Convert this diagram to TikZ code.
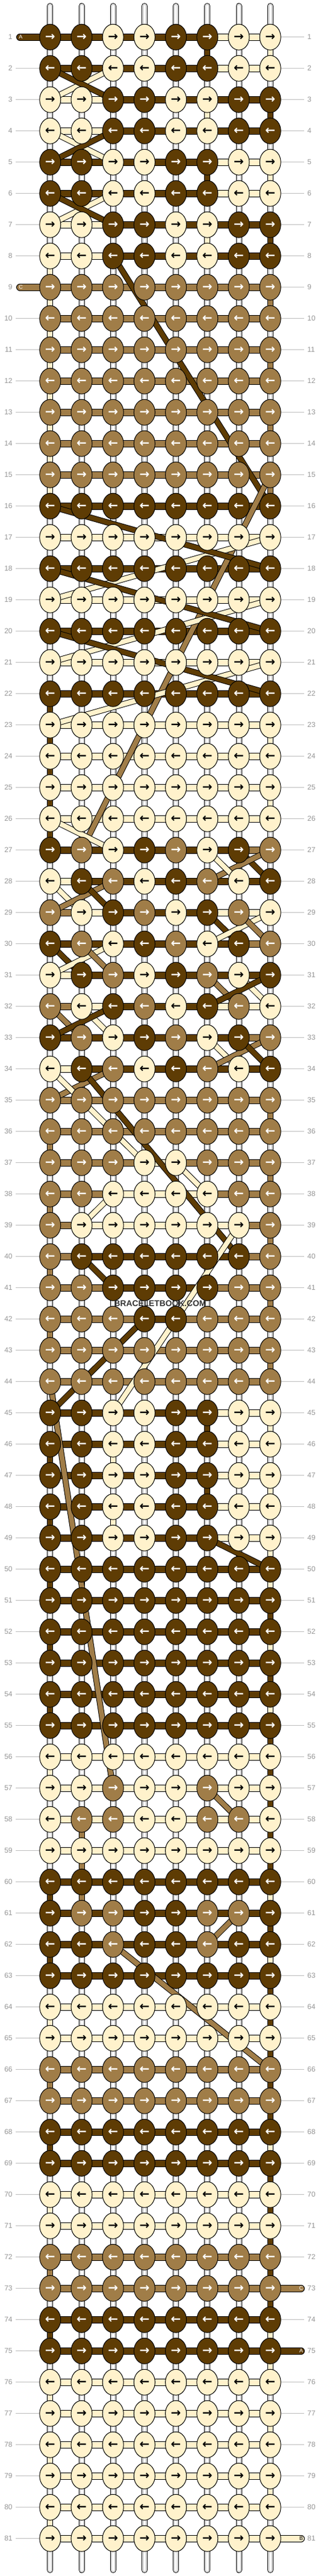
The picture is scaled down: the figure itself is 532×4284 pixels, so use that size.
\documentclass[tikz,border=0pt]{standalone}
\usepackage{fontspec}
\setmainfont{Liberation Sans}
\newfontfamily\arrowfont{DejaVu Sans}
\usetikzlibrary{shapes.geometric,positioning}
\definecolor{D}{RGB}{94,60,4}
\definecolor{M}{RGB}{160,125,72}
\definecolor{L}{RGB}{255,242,204}
\definecolor{numgray}{RGB}{150,150,150}
\definecolor{linegray}{RGB}{190,190,190}
\pgfdeclarelayer{base}
\pgfdeclarelayer{bars}
\pgfdeclarelayer{diags}
\pgfsetlayers{base,bars,diags,main}
\tikzset{
  knot/.style={ellipse, draw=black, line width=0.5pt, fill=#1, arrow#1,
    minimum width=17.5pt, minimum height=21.5pt, inner sep=0pt,
    font=\arrowfont\bfseries\fontsize{10}{10}\selectfont},
  arrowD/.style={text=white}, arrowM/.style={text=white}, arrowL/.style={text=black},
  hbar/.style={draw=black, line width=0.5pt, double=#1, double distance=5pt},
  vbar/.style={draw=black, line width=0.5pt, double=#1, double distance=4pt},
  diag/.style={draw=black, line width=0.5pt, double=#1, double distance=4pt},
  base/.style={line cap=round, draw=black, line width=5pt,
    postaction={draw=white, line width=4pt},
    postaction={draw=gray!55, line width=3pt},
    postaction={draw=white, line width=2pt}},
  rownum/.style={text=numgray, inner sep=0pt, font=\fontsize{6}{6}\selectfont},
  rowline/.style={draw=linegray, line width=0.5pt},
  tag/.style={inner sep=0pt, font=\fontsize{4.5}{4.5}\selectfont},
}
% one row: number, knot colours, colours of the bars between knots
\newcommand\knotrow[3]{%
  \foreach \kc [count=\kn] in {#2}{
    \node[knot=\kc] (k#1-\kn) at ({83.3+52.2*(\kn-1)},{61.7+52*(#1-1)}) {\ifodd#1 →\else ←\fi};}
  \begin{pgfonlayer}{bars}
  \foreach \bc [count=\bn] in {#3}{
    \pgfmathtruncatemacro\bnext{\bn+1}
    \draw[hbar=\bc] (k#1-\bn.center) -- (k#1-\bnext.center);}
  \end{pgfonlayer}}
\begin{document}
\begin{tikzpicture}[x=0.5pt,y=-0.5pt]
\useasboundingbox (0,0) rectangle (532,4284);
\begin{pgfonlayer}{base}
\fill[white] (0,0) rectangle (532,4284);
\foreach \c in {1,...,8}{
  \coordinate (top\c) at ({83.3+52.2*(\c-1)},10);
  \coordinate (bot\c) at ({83.3+52.2*(\c-1)},4274);
  \draw[base] (top\c) -- (bot\c);}
\end{pgfonlayer}

% knots
\foreach \r in {1,2,5,6,45,46,47,48,49}
  {\knotrow{\r}{D,D,L,L,D,D,L,L}{D,D,D,D,D,L,L}}
\foreach \r in {3,4,7,8}
  {\knotrow{\r}{L,L,D,D,L,L,D,D}{L,L,D,D,D,D,D}}
\foreach \r in {9,...,15,35,36,43,44,66,67,72,73}
  {\knotrow{\r}{M,M,M,M,M,M,M,M}{M,M,M,M,M,M,M}}
\foreach \r in {16,18,20,22,50,51,52,53,54,55,60,63,68,69,74,75}
  {\knotrow{\r}{D,D,D,D,D,D,D,D}{D,D,D,D,D,D,D}}
\foreach \r in {17,19,21,23,24,25,26,56,59,64,65,70,71,76,77,78,79,80,81}
  {\knotrow{\r}{L,L,L,L,L,L,L,L}{L,L,L,L,L,L,L}}
\foreach \r in {27,30,33}
  {\knotrow{\r}{D,M,L,D,M,L,D,M}{D,D,D,D,D,D,M}}
\foreach \r in {28,31,34}
  {\knotrow{\r}{L,D,M,L,D,M,L,D}{L,D,D,D,D,D,D}}
\foreach \r in {29,32}
  {\knotrow{\r}{M,L,D,M,L,D,M,L}{M,L,D,D,D,L,L}}
\knotrow{37}{M,M,M,L,L,M,M,M}{M,M,M,L,M,M,M}
\knotrow{38}{M,M,L,L,L,L,M,M}{M,M,L,L,L,M,M}
\knotrow{39}{M,L,L,L,L,L,L,M}{M,L,L,L,L,L,M}
\knotrow{40}{M,D,D,D,D,D,D,M}{M,D,D,D,D,D,M}
\knotrow{41}{M,M,D,D,D,D,M,M}{M,M,D,D,D,M,M}
\knotrow{42}{M,M,M,D,D,M,M,M}{M,M,M,D,M,M,M}
\knotrow{57}{L,L,M,L,L,M,L,L}{L,L,L,L,L,L,L}
\knotrow{58}{L,M,M,L,L,M,M,L}{L,L,L,L,L,L,L}
\knotrow{61}{D,M,M,D,D,M,M,D}{D,D,D,D,D,D,D}
\knotrow{62}{D,D,M,D,D,M,D,D}{D,D,D,D,D,D,D}

% row numbers
\foreach \r in {1,...,81}{
  \node[rownum, anchor=east] (nl\r) at (21,{61.7+52*(\r-1)}) {\r};
  \node[rownum, anchor=west] (nr\r) at (510,{61.7+52*(\r-1)}) {\r};
  \begin{pgfonlayer}{base}
  \draw[rowline] ([xshift=2.5pt]nl\r.east) -- (k\r-1.center);
  \draw[rowline] (k\r-8.center) -- ([xshift=-2.5pt]nr\r.west);
  \end{pgfonlayer}}

\begin{pgfonlayer}{bars}
% threads carried down the edges
\foreach \r/\c/\vc in {1/6/D,1/8/L,3/6/L,3/8/D,5/6/D,5/8/L,7/6/L,7/8/D,
  8/1/L,9/1/L,10/1/L,11/1/L,12/1/L,13/1/L,14/1/L,15/1/L,9/8/M,11/8/M,13/8/M,15/8/M,
  22/1/D,23/1/D,24/1/D,25/1/D,26/1/D,23/8/L,25/8/L,
  35/8/M,36/1/M,37/8/M,38/1/M,39/8/M,40/1/M,41/8/M,42/1/M,43/8/M,
  45/6/D,45/8/L,46/1/D,46/3/L,47/6/D,47/8/L,48/1/D,48/3/L,49/8/L,
  50/1/D,50/8/L,51/8/D,52/1/D,52/8/L,53/8/D,54/1/D,54/8/L,55/8/D,
  56/1/L,56/8/D,57/8/D,58/2/M,58/8/D,59/2/M,59/8/D,60/1/D,60/2/M,60/8/L,
  61/8/D,62/1/D,62/8/L,63/8/D,64/1/L,64/8/D,65/8/D,66/1/M,66/8/D,67/8/D,
  68/1/D,68/8/L,69/8/D,70/1/L,70/8/D,71/8/D,72/1/M,72/8/D,73/8/D,74/1/D,74/8/L,75/8/L,
  76/1/L,77/8/L,78/1/L,79/8/L,80/1/L}{
  \pgfmathtruncatemacro\rn{\r+1}
  \draw[vbar=\vc] (k\r-\c.center) -- (k\rn-\c.center);}
% loose ends
\coordinate (tipA1) at (33,61.7);
\coordinate (tipC9) at (33,477.7);
\coordinate (tipC73) at (500,3805.7);
\coordinate (tipA75) at (500,3909.7);
\coordinate (tipB81) at (500,4221.7);
\draw[hbar=D, line cap=round] (tipA1) -- (k1-1.center);
\draw[hbar=M, line cap=round] (tipC9) -- (k9-1.center);
\draw[hbar=M, line cap=round] (k73-8.center) -- (tipC73);
\draw[hbar=D, line cap=round] (k75-8.center) -- (tipA75);
\draw[hbar=L, line cap=round] (k81-8.center) -- (tipB81);
\end{pgfonlayer}

\begin{pgfonlayer}{diags}
\foreach \a/\b/\dc in {2-3/3-1/L,2-1/3-3/D,4-1/5-3/L,4-3/5-1/D,6-3/7-1/L,6-1/7-3/D,
  8-3/16-8/D,15-8/27-2/M,
  17-8/19-1/L,19-8/21-1/L,21-8/23-1/L,16-1/18-8/D,18-1/20-8/D,20-1/22-8/D,
  26-1/27-3/L,
  27-7/28-8/D,27-8/28-6/M,27-6/28-7/L,
  28-1/29-2/L,28-3/29-1/M,28-2/29-3/D,
  29-6/30-7/D,29-8/30-6/L,29-7/30-8/M,
  30-1/31-2/D,30-3/31-1/L,30-2/31-3/M,
  31-6/32-7/M,31-7/32-8/L,31-8/32-6/D,
  32-1/33-2/M,32-2/33-3/L,32-3/33-1/D,
  33-6/34-7/L,33-8/34-6/M,33-7/34-8/D,
  34-3/35-1/M,34-1/37-4/L,34-2/40-7/D,
  37-5/38-6/L,38-3/39-2/L,39-7/45-3/L,
  40-2/41-3/D,42-4/45-1/D,44-1/57-3/M,49-6/50-8/D,
  57-6/58-7/M,61-7/62-6/M,62-3/66-8/M}{
  \draw[diag=\dc] (k\a.center) -- (k\b.center);}
\end{pgfonlayer}

\node[tag, text=white] (tagA1) at (34.5,61.7) {A};
\node[tag, text=white] (tagC9) at (34.5,477.7) {C};
\node[tag, text=white] (tagC73) at (500,3805.7) {C};
\node[tag, text=white] (tagA75) at (500,3909.7) {A};
\node[tag, text=black] (tagB81) at (500,4221.7) {B};
\node[inner sep=0pt, text=black!80, font=\bfseries\fontsize{6.9}{7}\selectfont] (site) at (266,2167.5) {BRACELETBOOK.COM};
\end{tikzpicture}
\end{document}
